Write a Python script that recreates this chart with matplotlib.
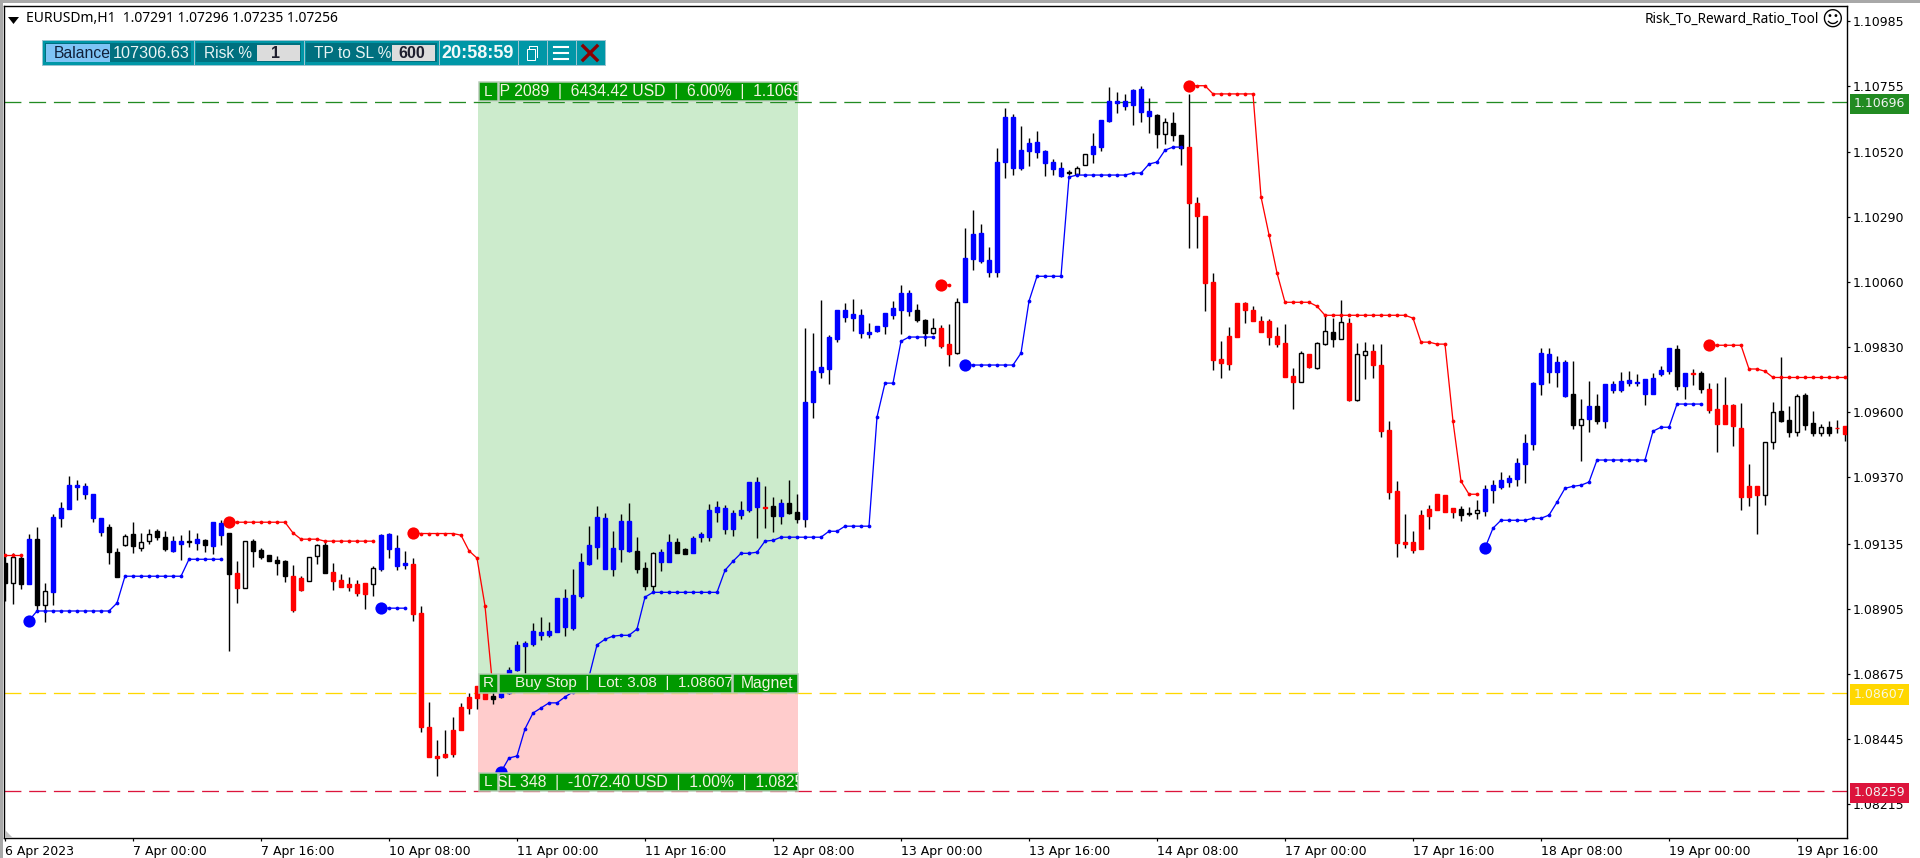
# coding: utf-8

"""Redraws the EURUSDm H1 chart with the risk to reward tool on top of it."""

from matplotlib import pyplot as plt
from matplotlib.patches import Rectangle, Polygon
import numpy as np

# Candle values, in 1e-5 price units, one row of ten bars per line
highs = [
  109095, 109102, 109095, 109170, 109194, 108996, 109240, 109283, 109375, 109361,
  109350, 109311, 109226, 109205, 109120, 109170, 109212, 109173, 109187, 109187,
  109180, 109163, 109166, 109184, 109173, 109152, 109212, 109219, 109173, 109074,
  109145, 109152, 109120, 109095, 109092, 109077, 109060, 109021, 109088, 109134,
  109145, 109067, 109028, 109018, 109007, 108996, 109056, 109170, 109173, 109166,
  109110, 109085, 108915, 108575, 108441, 108476, 108522, 108572, 108607, 108632,
  108632, 108611, 108611, 108699, 108791, 108791, 108855, 108876, 108858, 108943,
  108975, 109046, 109102, 109198, 109269, 109244, 109180, 109240, 109279, 109159,
  109071, 109106, 109117, 109170, 109156, 109120, 109163, 109177, 109276, 109286,
  109272, 109255, 109286, 109354, 109371, 109340, 109301, 109294, 109361, 109311,
  109899, 109881, 109998, 109874, 109962, 109987, 110001, 109966, 109916, 109906,
  109952, 109994, 110051, 110033, 109983, 109930, 109934, 109909, 109913, 110005,
  110252, 110316, 110266, 110185, 110535, 110677, 110656, 110613, 110571, 110596,
  110528, 110496, 110486, 110458, 110472, 110514, 110588, 110634, 110751, 110734,
  110726, 110744, 110755, 110712, 110656, 110642, 110663, 110581, 110726, 110362,
  110295, 110093, 109853, 109902, 109987, 109991, 109976, 109941, 109930, 109902,
  109913, 109757, 109817, 109807, 109849, 109941, 109934, 109998, 109934, 109845,
  109849, 109842, 109842, 109570, 109357, 109240, 109180, 109255, 109272, 109311,
  109308, 109262, 109269, 109265, 109290, 109343, 109361, 109389, 109378, 109439,
  109524, 109708, 109828, 109828, 109800, 109785, 109782, 109647, 109711, 109665,
  109700, 109711, 109743, 109746, 109736, 109718, 109739, 109764, 109828, 109838,
  109739, 109753, 109746, 109704, 109704, 109725, 109630, 109633, 109417, 109340,
  109495, 109637, 109796, 109623, 109665, 109669, 109605, 109559, 109570, 109573,
  109552]
body_tops = [
  109067, 109088, 109085, 109152, 109152, 108968, 109230, 109262, 109343, 109343,
  109340, 109311, 109226, 109194, 109106, 109163, 109170, 109141, 109170, 109180,
  109159, 109145, 109145, 109145, 109152, 109148, 109212, 109209, 109173, 109032,
  109145, 109145, 109113, 109095, 109077, 109074, 109021, 109014, 109088, 109131,
  109131, 109035, 109007, 108993, 108993, 108996, 109049, 109166, 109170, 109120,
  109067, 109063, 108890, 108487, 108384, 108391, 108476, 108558, 108593, 108632,
  108607, 108596, 108607, 108688, 108777, 108784, 108826, 108823, 108826, 108943,
  108943, 108954, 109071, 109131, 109230, 109226, 109120, 109215, 109215, 109110,
  109049, 109102, 109106, 109141, 109141, 109117, 109156, 109170, 109255, 109265,
  109262, 109244, 109255, 109354, 109354, 109265, 109269, 109279, 109279, 109248,
  109637, 109746, 109761, 109867, 109962, 109962, 109948, 109945, 109884, 109906,
  109952, 109969, 110022, 110022, 109962, 109927, 109898, 109898, 109842, 109991,
  110146, 110231, 110235, 110139, 110486, 110645, 110645, 110528, 110553, 110557,
  110525, 110486, 110465, 110450, 110465, 110514, 110542, 110634, 110702, 110702,
  110702, 110741, 110744, 110666, 110652, 110627, 110624, 110581, 110539, 110341,
  110295, 110061, 109789, 109870, 109987, 109987, 109962, 109923, 109923, 109870,
  109845, 109729, 109810, 109807, 109845, 109888, 109884, 109920, 109916, 109807,
  109817, 109817, 109768, 109538, 109322, 109141, 109141, 109237, 109258, 109311,
  109308, 109262, 109258, 109244, 109255, 109329, 109343, 109361, 109368, 109421,
  109492, 109704, 109810, 109807, 109778, 109778, 109665, 109577, 109623, 109623,
  109700, 109700, 109711, 109715, 109708, 109718, 109722, 109750, 109828, 109824,
  109739, 109739, 109739, 109683, 109612, 109626, 109626, 109545, 109340, 109340,
  109495, 109601, 109605, 109573, 109658, 109662, 109562, 109548, 109548, 109545,
  109552]
body_bottoms = [
  108996, 108996, 108993, 108993, 108918, 108918, 108965, 109226, 109258, 109336,
  109311, 109226, 109177, 109106, 109018, 109131, 109127, 109120, 109145, 109159,
  109117, 109110, 109134, 109141, 109138, 109131, 109127, 109166, 109028, 108979,
  108979, 109110, 109088, 109074, 109067, 109021, 108901, 108972, 109003, 109092,
  109032, 109003, 108982, 108982, 108961, 108957, 108993, 109046, 109117, 109056,
  109060, 108887, 108487, 108381, 108377, 108381, 108391, 108476, 108554, 108589,
  108586, 108586, 108593, 108607, 108688, 108773, 108780, 108812, 108812, 108823,
  108841, 108837, 108950, 109063, 109124, 109046, 109046, 109117, 109110, 109046,
  108985, 108985, 109071, 109071, 109102, 109099, 109102, 109159, 109159, 109248,
  109187, 109187, 109237, 109255, 109265, 109262, 109233, 109233, 109244, 109223,
  109223, 109637, 109743, 109753, 109860, 109937, 109934, 109881, 109877, 109888,
  109906, 109945, 109962, 109959, 109927, 109881, 109881, 109835, 109807, 109810,
  109991, 110143, 110136, 110097, 110097, 110486, 110465, 110465, 110525, 110521,
  110482, 110461, 110436, 110447, 110443, 110475, 110514, 110539, 110631, 110695,
  110684, 110687, 110663, 110649, 110585, 110585, 110581, 110535, 110341, 110295,
  110058, 109785, 109775, 109771, 109867, 109962, 109923, 109884, 109867, 109842,
  109725, 109707, 109707, 109761, 109757, 109842, 109860, 109860, 109644, 109644,
  109803, 109768, 109534, 109318, 109138, 109134, 109113, 109117, 109233, 109255,
  109248, 109248, 109237, 109240, 109244, 109251, 109325, 109336, 109354, 109364,
  109417, 109488, 109700, 109743, 109743, 109658, 109555, 109555, 109577, 109570,
  109570, 109679, 109679, 109704, 109704, 109665, 109665, 109736, 109746, 109693,
  109693, 109736, 109683, 109608, 109559, 109559, 109552, 109301, 109301, 109308,
  109308, 109495, 109570, 109531, 109531, 109555, 109527, 109527, 109527, 109545,
  109524]
lows = [
  108933, 108922, 108975, 108993, 108894, 108859, 108918, 109194, 109258, 109290,
  109294, 109212, 109163, 109063, 109018, 109127, 109102, 109110, 109134, 109148,
  109110, 109106, 109077, 109124, 109113, 109106, 109099, 109131, 108756, 108925,
  108979, 109053, 109081, 109074, 109025, 109000, 108894, 108968, 109003, 109063,
  109032, 108972, 108982, 108968, 108950, 108904, 108950, 109039, 109085, 109042,
  109046, 108862, 108469, 108381, 108313, 108377, 108381, 108476, 108533, 108551,
  108586, 108568, 108589, 108603, 108685, 108618, 108773, 108795, 108805, 108823,
  108809, 108830, 108943, 109060, 109081, 109046, 109021, 109071, 109106, 109032,
  108972, 108965, 109039, 109071, 109102, 109099, 109102, 109141, 109145, 109212,
  109170, 109163, 109223, 109248, 109156, 109191, 109177, 109205, 109240, 109208,
  109194, 109580, 109722, 109700, 109849, 109920, 109888, 109863, 109863, 109884,
  109877, 109930, 109877, 109941, 109920, 109835, 109877, 109828, 109764, 109807,
  109991, 110104, 110129, 110079, 110079, 110429, 110440, 110458, 110472, 110500,
  110436, 110440, 110433, 110440, 110436, 110475, 110482, 110525, 110627, 110659,
  110670, 110617, 110627, 110588, 110535, 110550, 110560, 110475, 110182, 110182,
  109959, 109750, 109722, 109750, 109867, 109916, 109923, 109884, 109838, 109831,
  109725, 109612, 109707, 109757, 109753, 109838, 109831, 109860, 109640, 109640,
  109718, 109722, 109513, 109294, 109088, 109120, 109102, 109117, 109187, 109255,
  109248, 109226, 109216, 109233, 109223, 109233, 109279, 109329, 109336, 109340,
  109350, 109467, 109661, 109704, 109690, 109654, 109541, 109428, 109531, 109559,
  109545, 109669, 109672, 109693, 109693, 109626, 109665, 109729, 109736, 109679,
  109647, 109697, 109669, 109598, 109460, 109559, 109481, 109255, 109269, 109170,
  109272, 109470, 109566, 109513, 109516, 109538, 109516, 109516, 109516, 109527,
  109499]

# Candle state: b strong up, r strong down, w plain up, k plain down
candle_states = (
  "kwkbkwbbbb" "bbbkkwkwwk" "kbbkbkbbkr" "wkkkkkrrww" "krrrrrwbbb"
  "brrrrrrrrr" "rkbbbbbbbb" "bbbbbbbbbk" "kwbbkkbbbb" "bbbbbrkbkk"
  "bbbbbbbbbb" "bbbbkkwrrw" "bbbbbbbbbb" "bbbkwwbbbb" "bbbbkwkkrr"
  "rrrrrrrrrr" "rrwrwwkwrw" "wrrrrrrrrr" "rrkkwbbbbb" "bbbbbbkwbk"
  "bbbbbbbbbk" "brkrrrrrrr" "wwkkwkkwkrr")

# Trailing stop legs, first bar of each leg and its values
red_starts = [0, 28, 51, 117, 148, 213]
red_legs = [
  [109095, 109095, 109095],
  [109211, 109211, 109211, 109211, 109211, 109211, 109211, 109211, 109173,
   109151, 109151, 109151, 109144, 109144, 109144, 109144, 109144, 109144,
   109144],
  [109173, 109171, 109171, 109171, 109171, 109171, 109165, 109110, 109084,
   108915, 108618],
  [110051, 110050],
  [110755, 110755, 110755, 110726, 110726, 110726, 110726, 110726, 110726,
   110362, 110228, 110093, 109989, 109989, 109989, 109989, 109975, 109943,
   109943, 109943, 109943, 109943, 109943, 109943, 109943, 109943, 109943,
   109943, 109933, 109848, 109848, 109841, 109841, 109568, 109356, 109310,
   109310],
  [109838, 109837, 109837, 109837, 109837, 109753, 109753, 109745, 109723,
   109723, 109723, 109723, 109723, 109723, 109723, 109723, 109723, 109723]]
blue_starts = [3, 47, 62, 120, 185]
blue_legs = [
  [108863, 108897, 108897, 108897, 108897, 108897, 108897, 108897, 108897,
   108897, 108897, 108925, 109020, 109020, 109020, 109020, 109020, 109020,
   109020, 109020, 109080, 109080, 109080, 109080, 109080],
  [108908, 108907, 108907, 108907],
  [108328, 108377, 108384, 108480, 108536, 108554, 108572, 108572, 108593,
   108611, 108635, 108664, 108777, 108797, 108808, 108811, 108811, 108833,
   108946, 108963, 108963, 108963, 108963, 108963, 108963, 108963, 108963,
   108963, 109041, 109073, 109101, 109101, 109105, 109144, 109147, 109158,
   109158, 109158, 109158, 109158, 109158, 109179, 109179, 109197, 109197,
   109197, 109197, 109583, 109703, 109703, 109851, 109866, 109866, 109866,
   109866],
  [109768, 109767, 109767, 109767, 109767, 109767, 109767, 109809, 109993,
   110081, 110081, 110081, 110081, 110432, 110439, 110439, 110439, 110439,
   110439, 110439, 110439, 110446, 110446, 110478, 110485, 110527, 110538,
   110538],
  [109120, 109190, 109218, 109218, 109218, 109218, 109225, 109225, 109236,
   109282, 109331, 109338, 109342, 109353, 109431, 109431, 109431, 109431,
   109431, 109431, 109431, 109533, 109547, 109547, 109629, 109629, 109629,
   109629]]

# Levels of the risk to reward tool
tp_level = 1.10696
entry_level = 1.08607
sl_level = 1.08259
tool_first_bar = 59.1
tool_last_bar = 99.1

# Axis labels
price_ticks = [1.10985, 1.10755, 1.10520, 1.10290, 1.10060, 1.09830, 1.09600,
               1.09370, 1.09135, 1.08905, 1.08675, 1.08445, 1.08215]
time_ticks = [0, 16, 32, 48, 64, 80, 96, 112, 128, 144, 160, 176, 192, 208, 224]
time_labels = ['6 Apr 2023', '7 Apr 00:00', '7 Apr 16:00', '10 Apr 08:00',
               '11 Apr 00:00', '11 Apr 16:00', '12 Apr 08:00', '13 Apr 00:00',
               '13 Apr 16:00', '14 Apr 08:00', '17 Apr 00:00', '17 Apr 16:00',
               '18 Apr 08:00', '19 Apr 00:00', '19 Apr 16:00']

UI_FONT = 'Liberation Sans'
AXIS_FONT = 'DejaVu Sans'
LABEL_GREEN = '#009900'
PANEL_TEAL = '#0097a7'
PANEL_DARK = '#00707f'
PX = 0.72  # One pixel in points, at 100 dpi


def pixel_box(ax, x0, y0, x1, y1, color, edge='none', lw=0, z=2):
  box = Rectangle((x0, y0), x1 - x0, y1 - y0, facecolor=color, edgecolor=edge,
                  linewidth=lw, zorder=z)
  ax.add_patch(box)
  return box


def tool_label(ax, x0, y0, x1, y1, text, text_x, size=11):
  # Green label, its text cut at the edge of the box like on the terminal
  box = pixel_box(ax, x0, y0, x1, y1, LABEL_GREEN, '#b8ccb8', 1.5 * PX)
  txt = ax.text(text_x, (y0 + y1) / 2, text, color='#f2f2e0', fontsize=size,
                family=UI_FONT, va='center', ha='left', zorder=3)
  txt.set_clip_on(True)
  txt.set_clip_path(box)


if __name__ == '__main__':

  fig = plt.figure(figsize=(19.2, 8.58), dpi=100)
  # Plot area in figure fractions, frame from x=4 to 1847 and y=6 to 838
  ax = fig.add_axes([4 / 1920, 1 - 838 / 858, 1843 / 1920, 832 / 858])
  ax.set_xlim(-0.125, 230.25)
  ax.set_ylim(1.08094, 1.11037)

  # Risk and reward zones of the tool
  ax.add_patch(Rectangle((tool_first_bar, entry_level),
                         tool_last_bar - tool_first_bar,
                         tp_level - entry_level, color='#ccebcc', lw=0,
                         zorder=1))
  ax.add_patch(Rectangle((tool_first_bar, sl_level),
                         tool_last_bar - tool_first_bar,
                         entry_level - sl_level, color='#ffcccc', lw=0,
                         zorder=1))

  # Dashed levels
  level_colors = ['#228b22', '#ffd700', '#dc143c']
  levels = [tp_level, entry_level, sl_level]
  for level, color in zip(levels, level_colors):
    ax.axhline(level, color=color, lw=1.3 * PX, dashes=(13, 6), zorder=2)

  # Candles
  bars = np.arange(len(highs))
  high = np.array(highs) / 1e5
  low = np.array(lows) / 1e5
  top = np.array(body_tops) / 1e5
  bottom = np.array(body_bottoms) / 1e5
  ax.vlines(bars, low, high, color='black', lw=1.4 * PX, zorder=3)
  fills = {'b': '#0000ff', 'r': '#ff0000', 'k': 'black', 'w': 'white'}
  edges = {'b': '#0000ff', 'r': '#ff0000', 'k': 'black', 'w': 'black'}
  face = [fills[state] for state in candle_states]
  edge = [edges[state] for state in candle_states]
  ax.bar(bars, top - bottom, 0.5, bottom, color=face, edgecolor=edge,
         linewidth=1.4 * PX, zorder=3.1)

  # Trailing stop lines, with a big dot where each leg starts
  for starts, legs, color in ((red_starts, red_legs, '#ff0000'),
                              (blue_starts, blue_legs, '#0000ff')):
    for start, leg in zip(starts, legs):
      leg_x = start + np.arange(len(leg))
      leg_y = np.array(leg) / 1e5
      ax.plot(leg_x, leg_y, color=color, lw=1.3 * PX, marker='o', ms=2.7,
              mew=0, zorder=4)
      if start > 0:
        ax.plot(leg_x[0], leg_y[0], 'o', color=color, ms=8.8, mew=0, zorder=4)

  # Axes and ticks
  ax.yaxis.tick_right()
  ax.set_yticks(price_ticks, [f'{price:.5f}' for price in price_ticks])
  ax.set_xticks(time_ticks, time_labels)
  ax.tick_params(length=3 * PX, width=1.2 * PX, labelsize=9, pad=2,
                 labelfontfamily=AXIS_FONT)
  ax.tick_params(axis='x', labelsize=9, pad=3)
  for label in ax.get_xticklabels():
    label.set_ha('left')
  for spine in ax.spines.values():
    spine.set_linewidth(1.4 * PX)

  # Price tags on the right of the levels
  tag_texts = ['#f2f2f2', '#f8f8e0', '#f2f2f2']
  for level, color, text_color in zip(levels, level_colors, tag_texts):
    ax.annotate(f'{level:.5f}', xy=(1, level),
                xycoords=('axes fraction', 'data'), xytext=(6.5, -1.5),
                textcoords='offset pixels', fontsize=9, family=AXIS_FONT,
                color=text_color, va='center', ha='left', annotation_clip=False,
                bbox=dict(boxstyle='square,pad=0.3', fc=color, ec='none'))

  # Everything of the terminal and of the tool panel, in pixels
  ui = fig.add_axes([0, 0, 1, 1], zorder=5)
  ui.set_xlim(0, 1920)
  ui.set_ylim(858, 0)
  ui.axis('off')
  ui.patch.set_alpha(0)

  # Window borders
  pixel_box(ui, 0, 0, 1920, 3, '#a8a8a8')
  pixel_box(ui, 0, 0, 2.5, 858, '#a8a8a8')
  ui.add_patch(Polygon([[5, 830], [13, 838], [5, 838]], color='#c0c0c0', lw=0))

  # Chart title and tool name
  ui.add_patch(Polygon([[8, 17], [19, 17], [13.5, 24]], color='black', lw=0))
  ui.text(26, 18.5, 'EURUSDm,H1  1.07291 1.07296 1.07235 1.07256', fontsize=10,
          family='Noto Sans', va='center', ha='left', color='black')
  ui.text(1819, 19, 'Risk_To_Reward_Ratio_Tool', fontsize=9.8,
          family='Noto Sans', va='center', ha='right', color='black')
  ui.text(1832, 20, '\u263a', fontsize=15, family='DejaVu Sans', va='center',
          ha='center', color='black')

  # Tool labels
  tool_label(ui, 498.7, 82, 797.5, 101, 'TP 2089  |  6434.42 USD  |  6.00%  |  '
             '1.1069', 490, 11.3)
  tool_label(ui, 498.7, 674, 732, 692.7, 'Buy Stop  |  Lot: 3.08  |  1.08607',
             514.7)
  tool_label(ui, 733, 674, 797.5, 692.7, 'Magnet', 740.5, 11.3)
  tool_label(ui, 498.7, 772.7, 797.5, 791.3, 'SL 348  |  -1072.40 USD  |  '
             '1.00%  |  1.0825', 497, 11.3)
  tool_label(ui, 478.7, 82, 497.5, 101, 'L', 484)
  tool_label(ui, 478.7, 674, 497.5, 692.7, 'R', 483)
  tool_label(ui, 478.7, 772.7, 497.5, 791.3, 'L', 484)

  # Control panel
  pixel_box(ui, 42, 40, 604.5, 65, PANEL_TEAL, '#9cc4d0', PX)
  pixel_box(ui, 45, 43, 191, 62, PANEL_DARK, z=3)
  pixel_box(ui, 45.5, 44, 110, 61.5, '#7fc4f5', z=3)
  pixel_box(ui, 196, 43, 300.5, 62, PANEL_DARK, z=3)
  pixel_box(ui, 257, 45, 299.5, 60.5, '#dcdcdc', z=3)
  pixel_box(ui, 306, 43, 436.5, 62, PANEL_DARK, z=3)
  pixel_box(ui, 392, 45, 435, 60.5, '#dcdcdc', z=3)
  for sep_x in [193.5, 303.5, 438.5, 517.5, 546.5, 575.5]:
    ui.plot([sep_x, sep_x], [40, 65], color='#9cc4d0', lw=PX, zorder=3)
  panel_font = dict(family=UI_FONT, va='center', zorder=4)
  ui.text(53.5, 53, 'Balance', fontsize=11.3, color='#10203a', ha='left',
          **panel_font)
  ui.text(113, 53, '107306.63', fontsize=11.7, color='#e8f4f4', ha='left',
          **panel_font)
  ui.text(204, 53, 'Risk %', fontsize=11.2, color='#e8f4f4', ha='left',
          **panel_font)
  ui.text(276, 53, '1', fontsize=11.5, color='#1e1e2e', ha='center',
          weight='bold', **panel_font)
  ui.text(314, 53, 'TP to SL %', fontsize=11.2, color='#e8f4f4', ha='left',
          **panel_font)
  ui.text(412, 53, '600', fontsize=11.5, color='#1e1e2e', ha='center',
          weight='bold', **panel_font)
  ui.text(441, 53, '20:58:59', fontsize=13, color='#f4fafa', ha='left',
          weight='bold', **panel_font)

  # Copy, menu and close icons
  pixel_box(ui, 527, 49, 535, 60, 'none', 'white', PX, z=4)
  ui.plot([529, 529, 537, 537], [49, 46, 46, 57], color='white', lw=PX, zorder=4)
  for bar_y in [47, 53, 59]:
    ui.plot([554, 568], [bar_y, bar_y], color='white', lw=1.5, zorder=4)
  ui.plot([583, 597], [46, 60], color='#8b0000', lw=2.4, zorder=4)
  ui.plot([583, 597], [60, 46], color='#8b0000', lw=2.4, zorder=4)

  fig.savefig('out.png', dpi=100)
